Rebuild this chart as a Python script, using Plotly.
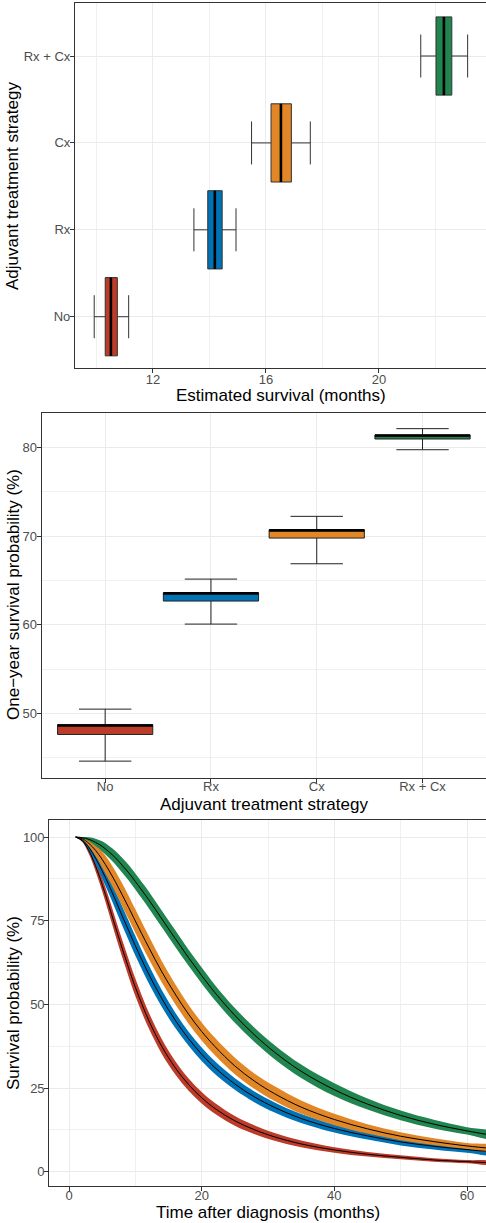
import plotly.graph_objects as go

W, H = 486, 1223
FONT = "Liberation Sans, Arial, Helvetica, sans-serif"

categories = ["No", "Rx", "Cx", "Rx + Cx"]
colors = ["#BC3C29", "#0072B5", "#E18727", "#20854E"]

# Panel 1: estimated survival (months)
surv_wlo = [9.92, 13.45, 15.49, 21.48]
surv_q1 = [10.31, 13.94, 16.18, 22.02]
surv_med = [10.51, 14.19, 16.53, 22.30]
surv_q3 = [10.74, 14.45, 16.90, 22.58]
surv_whi = [11.14, 14.94, 17.57, 23.14]

# Panel 2: one-year survival probability (%)
oy_wlo = [44.62, 60.09, 66.90, 79.77]
oy_q1 = [47.63, 62.69, 69.80, 80.98]
oy_med = [48.64, 63.56, 70.67, 81.37]
oy_q3 = [48.74, 63.63, 70.74, 81.43]
oy_whi = [50.49, 65.17, 72.25, 82.15]

# Panel 3: survival curves
months = [1, 2, 3, 4, 5, 6, 7, 8, 9, 10, 12, 14, 16, 18, 20, 22, 25, 28, 31, 35,
          40, 45, 50, 55, 60, 64]
surv_no = [100, 98.9, 95.9, 91.4, 85.8, 79.6, 73.1, 66.8, 60.8, 55.1, 45.3, 37.4, 31.1,
           26.1, 22.1, 18.9, 15.2, 12.5, 10.4, 8.3, 6.5, 5.2, 4.3, 3.5, 3.0, 2.6]
surv_rx = [100, 99.1, 96.9, 93.7, 89.9, 85.7, 81.2, 76.5, 72.0, 67.5, 59.1, 51.7, 45.3,
           39.8, 35.1, 31.1, 26.2, 22.3, 19.2, 15.9, 12.9, 10.7, 8.9, 7.6, 6.6, 5.9]
surv_cx = [100, 99.5, 98.1, 96.0, 93.3, 90.1, 86.6, 82.8, 78.9, 74.9, 67.1, 59.7, 53.1,
           47.1, 41.9, 37.4, 31.6, 27.0, 23.3, 19.3, 15.6, 12.8, 10.6, 9.0, 7.7, 6.9]
surv_rxcx = [100, 99.8, 99.3, 98.4, 97.2, 95.6, 93.8, 91.6, 89.3, 86.7, 81.3, 75.5, 69.7,
             64.0, 58.6, 53.5, 46.7, 40.8, 35.7, 30.0, 24.5, 20.2, 16.8, 14.2, 12.2, 10.8]
# half-width of the confidence ribbon (percentage points)
ci_no = [0, 0.4, 1.0, 1.6, 2.0, 2.3, 2.5, 2.6, 2.6, 2.6, 2.4, 2.2, 2.0, 1.85, 1.7, 1.6,
         1.45, 1.3, 1.15, 1.0, 0.8, 0.68, 0.58, 0.52, 0.48, 0.45]
ci_rx = [0, 0.4, 1.0, 1.7, 2.2, 2.6, 2.8, 2.9, 2.9, 2.9, 2.7, 2.5, 2.3, 2.1, 2.0, 1.9,
         1.75, 1.6, 1.5, 1.35, 1.2, 1.1, 1.05, 1.0, 0.95, 0.9]
ci_cx = [0, 0.3, 0.9, 1.7, 2.4, 2.9, 3.2, 3.4, 3.5, 3.5, 3.4, 3.2, 3.0, 2.8, 2.7, 2.6,
         2.45, 2.3, 2.2, 2.0, 1.7, 1.4, 1.2, 1.0, 0.9, 0.85]
ci_rxcx = [0, 0.2, 0.6, 1.1, 1.5, 1.8, 2.0, 2.2, 2.3, 2.4, 2.5, 2.5, 2.5, 2.4, 2.4, 2.3,
           2.2, 2.15, 2.1, 2.0, 1.9, 1.65, 1.45, 1.3, 1.1, 1.0]

curves = [surv_no, surv_rx, surv_cx, surv_rxcx]
cis = [ci_no, ci_rx, ci_cx, ci_rxcx]

BOX_W = 0.9
fig = go.Figure()

# ---------- Panel 1 ----------
for i, cat in enumerate(categories):
    fig.add_trace(go.Box(
        orientation="h", y=[i], q1=[surv_q1[i]], median=[surv_med[i]], q3=[surv_q3[i]],
        lowerfence=[surv_wlo[i]], upperfence=[surv_whi[i]],
        fillcolor=colors[i], line=dict(color="#333333", width=1),
        width=BOX_W, whiskerwidth=0.55, boxpoints=False,
        xaxis="x", yaxis="y", showlegend=False, hoverinfo="skip", name=cat))
    fig.add_trace(go.Scatter(
        x=[surv_med[i], surv_med[i]], y=[i - BOX_W / 2, i + BOX_W / 2], mode="lines",
        line=dict(color="black", width=2.6), xaxis="x", yaxis="y",
        showlegend=False, hoverinfo="skip"))

# ---------- Panel 2 ----------
for i, cat in enumerate(categories):
    fig.add_trace(go.Box(
        x=[i], q1=[oy_q1[i]], median=[oy_med[i]], q3=[oy_q3[i]],
        lowerfence=[oy_wlo[i]], upperfence=[oy_whi[i]],
        fillcolor=colors[i], line=dict(color="#222222", width=1),
        width=BOX_W, whiskerwidth=0.55, boxpoints=False,
        xaxis="x2", yaxis="y2", showlegend=False, hoverinfo="skip", name=cat))
    fig.add_trace(go.Scatter(
        x=[i - BOX_W / 2, i + BOX_W / 2], y=[oy_med[i], oy_med[i]], mode="lines",
        line=dict(color="black", width=2.6), xaxis="x2", yaxis="y2",
        showlegend=False, hoverinfo="skip"))

# ---------- Panel 3 ----------
for s, ci, col in zip(curves, cis, colors):
    upper = [v + c for v, c in zip(s, ci)]
    lower = [v - c for v, c in zip(s, ci)]
    fig.add_trace(go.Scatter(
        x=months + months[::-1], y=upper + lower[::-1], fill="toself",
        fillcolor=col, line=dict(width=0, shape="spline"), mode="lines",
        xaxis="x3", yaxis="y3", showlegend=False, hoverinfo="skip"))
for s in curves:
    fig.add_trace(go.Scatter(
        x=months, y=s, mode="lines", line=dict(color="black", width=1, shape="spline"),
        xaxis="x3", yaxis="y3", showlegend=False, hoverinfo="skip"))

def px_x(p):
    return p / W

def px_y(p):
    return 1 - p / H

axis_common = dict(
    showline=True, linecolor="#333333", linewidth=1.2,
    ticks="outside", ticklen=4, tickcolor="#333333", tickwidth=1.1,
    tickfont=dict(size=13, color="#4d4d4d", family=FONT),
    showgrid=True, gridcolor="#ebebeb", gridwidth=1, zeroline=False,
)
ya = dict(axis_common, ticklabelstandoff=-3)
minor_grid = lambda d: dict(dtick=d, showgrid=True, gridcolor="#f0f0f0", gridwidth=1, ticks="")

fig.update_layout(
    width=W, height=H,
    margin=dict(l=0, r=0, t=0, b=0, autoexpand=False),
    paper_bgcolor="white", plot_bgcolor="white",
    font=dict(family=FONT),
    boxmode="overlay",
    xaxis=dict(axis_common, ticklabelstandoff=-5, domain=[px_x(75), 1], anchor="y",
               range=[9.24, 23.79], tick0=0, dtick=4, minor=minor_grid(2), mirror=True),
    yaxis=dict(ya, domain=[px_y(368), px_y(3)], anchor="x", range=[-0.59, 3.61],
               tickvals=list(range(len(categories))), ticktext=categories),
    xaxis2=dict(axis_common, ticklabelstandoff=-7, domain=[px_x(41.7), 1], anchor="y2",
                range=[-0.6, 3.6], tickvals=list(range(len(categories))),
                ticktext=categories, mirror=True),
    yaxis2=dict(ya, domain=[px_y(777.7), px_y(412.7)], anchor="x2",
                range=[42.75, 83.95], tick0=0, dtick=10, minor=minor_grid(5)),
    xaxis3=dict(axis_common, ticklabelstandoff=-7, domain=[px_x(49.3), 1], anchor="y3",
                range=[-2.97, 62.86], tick0=0, dtick=20, minor=minor_grid(10), mirror=True),
    yaxis3=dict(ya, domain=[px_y(1186), px_y(820.3)], anchor="x3",
                range=[-4.27, 104.99], tick0=0, dtick=25, minor=minor_grid(12.5)),
)

title_font = dict(size=17, color="black", family=FONT)
titles = [
    ("Estimated survival (months)", 280.5, 395, 0),
    ("Adjuvant treatment strategy", 13, 186, -90),
    ("One\u2212year survival probability (%)", 13, 595, -90),
    ("Adjuvant treatment strategy", 264, 804, 0),
    ("Survival probability (%)", 13, 1003, -90),
    ("Time after diagnosis (months)", 268, 1212.5, 0),
]
for text, x, y, ang in titles:
    fig.add_annotation(text=text, x=px_x(x), y=px_y(y), xref="paper", yref="paper",
                       xanchor="center", yanchor="middle", showarrow=False,
                       textangle=ang, font=title_font)

fig.write_html(
    "out.html",
    config={"displayModeBar": False},
    post_script="document.body.style.margin='0';document.body.style.padding='0';"
                "document.documentElement.style.overflow='hidden';",
)
